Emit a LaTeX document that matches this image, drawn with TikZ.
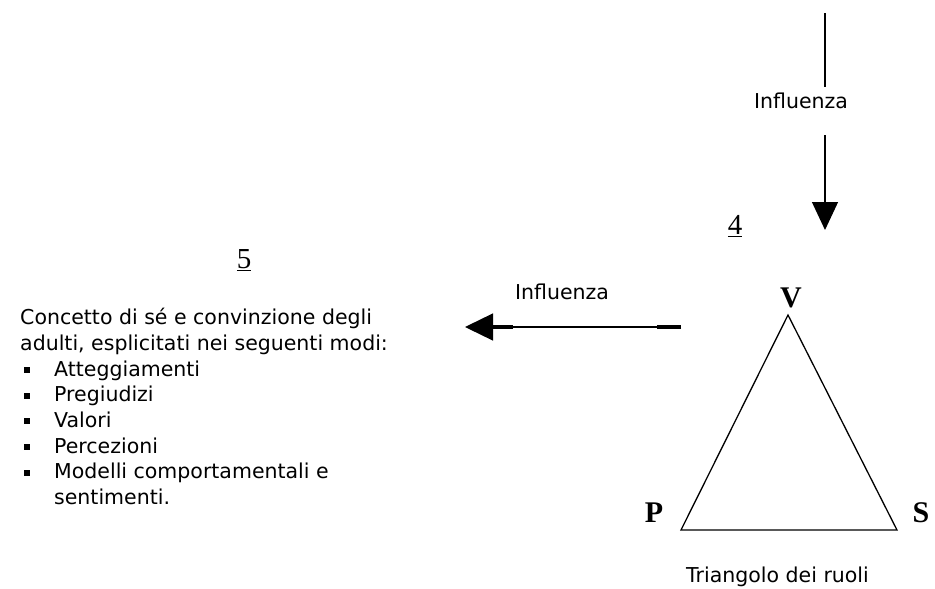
\documentclass[tikz,border=0pt]{standalone}
\usepackage{fontspec}
\setmainfont{DejaVu Sans}
\newfontfamily\timesfont{Liberation Serif}
\usetikzlibrary{arrows.meta}

\newcommand{\sqbullet}{\makebox[34pt][l]{\hspace{4pt}\raisebox{3pt}{\rule{6pt}{6pt}}}}

\begin{document}
\begin{tikzpicture}[x=1pt,y=-1pt,
  txt/.style={font=\fontsize{20.5}{25.7}\selectfont, inner sep=0pt},
  corner/.style={font=\timesfont\bfseries\fontsize{30}{30}\selectfont, inner sep=0pt},
  num/.style={font=\timesfont\fontsize{29}{29}\selectfont, inner sep=0pt},
  influ/.style={line width=1.3pt, -{Triangle[length=28pt,width=26pt]}}]
\useasboundingbox (0,0) rectangle (935,589);

% influenza dall'alto
\coordinate (top) at (825,13);
\coordinate (topend) at (825,87);
\node[txt] (inflV) at (801,101) {Influenza};
\coordinate (arrstart) at (825,135);
\coordinate (arrtip) at (825,230);
\draw[line width=1.3pt] (top) -- (topend);
\draw[influ] (arrstart) -- (arrtip);

\node[num] (four) at (735,226) {\underline{4}};
\node[num] (five) at (244,260) {\underline{5}};

% triangolo dei ruoli
\coordinate (tv) at (788,315);
\coordinate (tp) at (681,530);
\coordinate (ts) at (897,530);
\draw[line width=1.3pt] (tv) -- (tp) -- (ts) -- cycle;
\node[corner] (V) at (791,298) {V};
\node[corner] (P) at (654,513) {P};
\node[corner] (S) at (921,513) {S};
\node[txt] (triang) at (777.5,577) {Triangolo dei ruoli};

% influenza verso sinistra
\node[txt] (inflH) at (562,292) {Influenza};
\coordinate (hstart) at (681,327);
\coordinate (hmid) at (657,327);
\coordinate (htip) at (465,327);
\draw[line width=3.5pt] (hstart) -- (hmid);
\draw[line width=3.5pt] (513,327) -- (490,327);
\draw[line width=1.3pt, -{Triangle[length=28pt,width=27pt]}] (hmid) -- (htip);

% punto 5
\node[txt, anchor=north west, align=left] (concetto) at (20,308)
  {Concetto di sé e convinzione degli\\
   adulti, esplicitati nei seguenti modi:\\
   \sqbullet Atteggiamenti\\
   \sqbullet Pregiudizi\\
   \sqbullet Valori\\
   \sqbullet Percezioni\\
   \sqbullet Modelli comportamentali e\\
   \hspace*{34pt}sentimenti.};
\end{tikzpicture}
\end{document}
